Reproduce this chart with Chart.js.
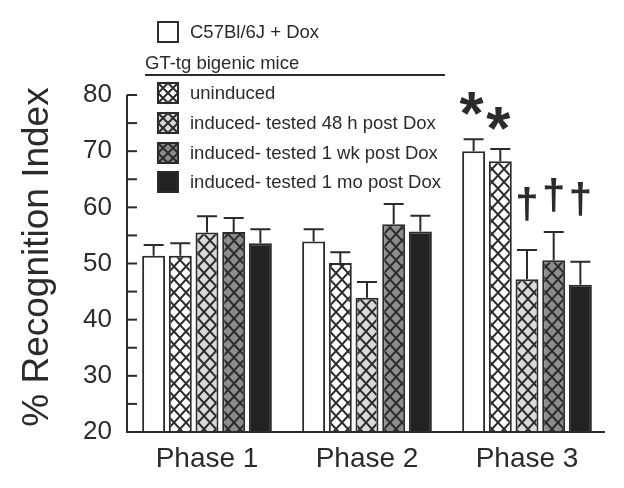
<!DOCTYPE html>
<html>
<head>
<meta charset="utf-8">
<script src="https://cdn.jsdelivr.net/npm/chart.js@4.4.0/dist/chart.umd.min.js"></script>
<style>
  html, body { margin: 0; padding: 0; background: #ffffff; }
  #wrap { width: 624px; height: 488px; }
</style>
</head>
<body>
<div id="wrap"><canvas id="chart" width="624" height="488"></canvas></div>
<script>
// categories and series (mean, upward SEM)
const categories = ['Phase 1', 'Phase 2', 'Phase 3'];
const seriesNames = [
    'C57Bl/6J + Dox',
    'uninduced',
    'induced- tested 48 h post Dox',
    'induced- tested 1 wk post Dox',
    'induced- tested 1 mo post Dox'
];
const c57Dox = [51.4, 53.9, 70.0];
const c57DoxErr = [1.9, 2.2, 2.1];
const uninduced = [51.4, 50.1, 68.2];
const uninducedErr = [2.2, 1.9, 2.2];
const induced48h = [55.5, 43.9, 47.2];
const induced48hErr = [2.9, 2.8, 5.2];
const induced1wk = [55.6, 57.0, 50.6];
const induced1wkErr = [2.5, 3.6, 5.0];
const induced1mo = [53.6, 55.7, 46.2];
const induced1moErr = [2.5, 2.8, 4.1];
const yTicks = [20, 30, 40, 50, 60, 70, 80];
const groupTitle = 'GT-tg bigenic mice';
const yTitle = '% Recognition Index';

// significance marks: series index, category index, symbol, value level of its centre
const marks = [
    { series: 0, cat: 2, text: '*', level: 78.6 },
    { series: 1, cat: 2, text: '*', level: 75.9 },
    { series: 2, cat: 2, text: '\u2020', level: 60.1 },
    { series: 3, cat: 2, text: '\u2020', level: 61.8 },
    { series: 4, cat: 2, text: '\u2020', level: 61.1 }
];

const INK = '#2b2b2b';
const FONT = 'Arial, "Liberation Sans", Helvetica, sans-serif';

// cross-hatch pattern over a fill colour
function hatch(fill) {
    const c = document.createElement('canvas');
    c.width = 12;
    c.height = 13;
    const g = c.getContext('2d');
    g.fillStyle = fill;
    g.fillRect(0, 0, 12, 13);
    g.strokeStyle = INK;
    g.lineWidth = 2;
    g.beginPath();
    g.moveTo(-1, -1.08); g.lineTo(13, 14.08);
    g.moveTo(-1, 14.08); g.lineTo(13, -1.08);
    g.stroke();
    return g.createPattern(c, 'repeat');
}

const fills = ['#ffffff', '#ffffff', '#d9d9d9', '#8c8c8c', '#222222'];
const hatched = [false, true, true, true, false];
const values = [c57Dox, uninduced, induced48h, induced1wk, induced1mo];
const errors = [c57DoxErr, uninducedErr, induced48hErr, induced1wkErr, induced1moErr];

const datasets = values.map((v, i) => ({
    label: seriesNames[i],
    data: v,
    errors: errors[i],
    backgroundColor: hatched[i] ? hatch(fills[i]) : fills[i],
    borderColor: INK,
    borderWidth: 2,
    borderSkipped: 'bottom',
    categoryPercentage: 0.834,
    barPercentage: 0.86
}));

const figurePlugin = {
    id: 'figure',
    afterDatasetsDraw(chart) {
        const ctx = chart.ctx;
        const y = chart.scales.y;
        ctx.save();
        ctx.strokeStyle = INK;
        ctx.lineWidth = 2;
        chart.data.datasets.forEach((ds, di) => {
            chart.getDatasetMeta(di).data.forEach((bar, ci) => {
                const top = y.getPixelForValue(ds.data[ci] + ds.errors[ci]);
                ctx.beginPath();
                ctx.moveTo(bar.x, bar.y);
                ctx.lineTo(bar.x, top);
                ctx.moveTo(bar.x - 10, top);
                ctx.lineTo(bar.x + 10, top);
                ctx.stroke();
            });
        });
        // significance marks
        ctx.fillStyle = INK;
        ctx.textAlign = 'center';
        ctx.textBaseline = 'middle';
        marks.forEach(m => {
            const bar = chart.getDatasetMeta(m.series).data[m.cat];
            const py = y.getPixelForValue(m.level);
            if (m.text === '*') {
                ctx.font = 'bold 62px ' + FONT;
                ctx.fillText(m.text, bar.x - 2, py + 14);
            } else {
                ctx.font = 'bold 42px ' + FONT;
                ctx.fillText(m.text, bar.x, py);
            }
        });
        ctx.restore();
    },
    afterDraw(chart) {
        const ctx = chart.ctx;
        const area = chart.chartArea;
        const y = chart.scales.y;
        ctx.save();
        ctx.strokeStyle = INK;
        ctx.lineWidth = 2;
        // axes
        ctx.beginPath();
        ctx.moveTo(area.left, y.getPixelForValue(80));
        ctx.lineTo(area.left, area.bottom);
        ctx.lineTo(area.right - 2, area.bottom);
        ctx.stroke();
        // inward ticks every 5
        for (let v = 20; v <= 80; v += 5) {
            const py = y.getPixelForValue(v);
            ctx.beginPath();
            ctx.moveTo(area.left, py);
            ctx.lineTo(area.left + 10, py);
            ctx.stroke();
        }
        // y title
        ctx.fillStyle = INK;
        ctx.font = '37px ' + FONT;
        ctx.textAlign = 'center';
        ctx.textBaseline = 'middle';
        ctx.translate(38, 257);
        ctx.rotate(-Math.PI / 2);
        ctx.fillText(yTitle, 0, 0);
        ctx.restore();

        // legend
        ctx.save();
        ctx.fillStyle = INK;
        ctx.strokeStyle = INK;
        ctx.font = '18.5px ' + FONT;
        ctx.textBaseline = 'middle';
        ctx.textAlign = 'left';
        const boxX = 158, box = 20, textX = 190;
        const rowY = [32, 93, 123, 153, 182];
        seriesNames.forEach((name, i) => {
            const cy = rowY[i];
            const bx = boxX, by = cy - box / 2;
            ctx.fillStyle = fills[i];
            ctx.fillRect(bx, by, box, box);
            ctx.lineWidth = 2;
            ctx.strokeStyle = INK;
            if (hatched[i]) {
                ctx.beginPath();
                ctx.moveTo(bx, by); ctx.lineTo(bx + box, by + box);
                ctx.moveTo(bx + box, by); ctx.lineTo(bx, by + box);
                ctx.moveTo(bx + box / 2, by); ctx.lineTo(bx + box, by + box / 2);
                ctx.lineTo(bx + box / 2, by + box); ctx.lineTo(bx, by + box / 2);
                ctx.closePath();
                ctx.stroke();
            }
            ctx.strokeRect(bx, by, box, box);
            ctx.fillStyle = INK;
            ctx.fillText(name, textX, cy + 1);
        });
        ctx.fillText(groupTitle, 145, 64);
        ctx.beginPath();
        ctx.moveTo(145, 75);
        ctx.lineTo(445, 75);
        ctx.stroke();
        ctx.restore();
    }
};

const chart = new Chart(document.getElementById('chart'), {
    type: 'bar',
    data: { labels: categories, datasets: datasets },
    options: {
        responsive: false,
        animation: false,
        devicePixelRatio: 1,
        layout: { padding: { top: 95, right: 17, bottom: 0, left: 0 } },
        plugins: {
            legend: { display: false },
            tooltip: { enabled: false }
        },
        scales: {
            x: {
                grid: { display: false, drawTicks: false },
                border: { display: false },
                ticks: { color: INK, font: { family: FONT, size: 28 }, padding: 10 },
                afterFit(scale) { scale.height = 56; }
            },
            y: {
                min: 20,
                max: 80,
                grid: { display: false, drawTicks: false },
                border: { display: false },
                afterBuildTicks(scale) { scale.ticks = yTicks.map(v => ({ value: v })); },
                ticks: { color: INK, font: { family: FONT, size: 26 }, padding: 15 },
                afterFit(scale) { scale.width = 127; }
            }
        }
    },
    plugins: [figurePlugin]
});
</script>
</body>
</html>
